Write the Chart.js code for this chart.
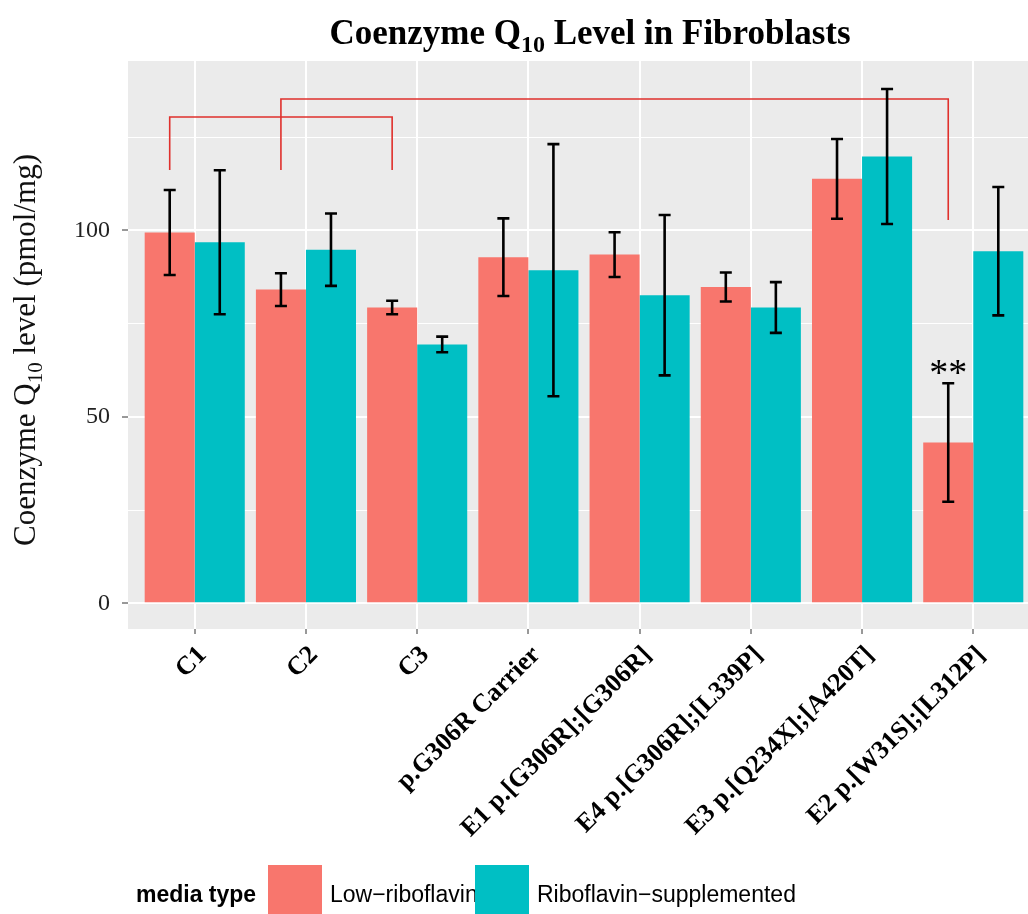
<!DOCTYPE html>
<html>
<head>
<meta charset="utf-8">
<title>Coenzyme Q10 Level in Fibroblasts</title>
<script src="https://cdn.jsdelivr.net/npm/chart.js@4.4.1/dist/chart.umd.min.js"></script>
<style>
  html, body { margin: 0; padding: 0; background: #fff; overflow: hidden; width: 1028px; height: 914px; }
  #wrap { position: absolute; left: 0; top: 0; width: 1028px; height: 914px; overflow: hidden; }
  canvas { display: block; }
</style>
</head>
<body>
<div id="wrap"><canvas id="c" width="1060" height="930"></canvas></div>
<script>
// Cell lines on the x axis
const categories = [
  'C1', 'C2', 'C3', 'p.G306R Carrier',
  'E1 p.[G306R];[G306R]', 'E4 p.[G306R];[L339P]',
  'E3 p.[Q234X];[A420T]', 'E2 p.[W31S];[L312P]'
];

// CoQ10 (pmol/mg), mean and error half-width per media type
const lowMean  = [99.4, 84.1, 79.3, 92.8, 93.5, 84.8, 113.8, 43.1];
const lowErr   = [11.4,  4.4,  1.8, 10.4,  6.0,  3.9,  10.7, 15.9];
const suppMean = [96.8, 94.8, 69.4, 89.3, 82.6, 79.3, 119.8, 94.4];
const suppErr  = [19.3,  9.7,  2.1, 33.8, 21.5,  6.8,  18.1, 17.2];

// Y axis gridline values and labelled ticks
const yGrid = [0, 25, 50, 75, 100, 125];
const yLabelled = [0, 50, 100];

// Comparison brackets (between low-riboflavin bars): from/to category, top level, foot levels
const bracketFrom  = [0, 1];
const bracketTo    = [2, 7];
const bracketTop   = [130.4, 135.2];
const bracketLeft  = [116.2, 116.2];
const bracketRight = [116.2, 102.8];

// Significance mark on the low-riboflavin bar
const sigIndex = 7;
const sigText = '**';

const seriesNames = ['Low\u2212riboflavin', 'Riboflavin\u2212supplemented'];
const seriesColors = ['#F8766D', '#00BFC4'];

const SERIF = '"Liberation Serif", "Times New Roman", serif';
const SANS = '"Liberation Sans", Arial, sans-serif';

// Grey ggplot-style panel behind the bars
const panelBackground = {
  id: 'panelBackground',
  beforeDraw(chart) {
    const { ctx, chartArea: a } = chart;
    ctx.save();
    ctx.fillStyle = '#EBEBEB';
    ctx.fillRect(a.left, a.top, a.right - a.left, a.bottom - a.top);
    ctx.restore();
  }
};

// Red comparison brackets and black error bars
const overlays = {
  id: 'overlays',
  afterDatasetsDraw(chart) {
    const { ctx } = chart;
    const ys = chart.scales.y;
    const lowBars = chart.getDatasetMeta(0).data;

    ctx.save();
    ctx.strokeStyle = '#E0302C';
    ctx.lineWidth = 1.6;
    for (let b = 0; b < bracketFrom.length; b++) {
      const x1 = lowBars[bracketFrom[b]].x;
      const x2 = lowBars[bracketTo[b]].x;
      ctx.beginPath();
      ctx.moveTo(x1, ys.getPixelForValue(bracketLeft[b]));
      ctx.lineTo(x1, ys.getPixelForValue(bracketTop[b]));
      ctx.lineTo(x2, ys.getPixelForValue(bracketTop[b]));
      ctx.lineTo(x2, ys.getPixelForValue(bracketRight[b]));
      ctx.stroke();
    }
    ctx.restore();

    const series = [[lowMean, lowErr], [suppMean, suppErr]];
    ctx.save();
    ctx.strokeStyle = '#000';
    ctx.lineWidth = 2.6;
    series.forEach(([means, errs], d) => {
      chart.getDatasetMeta(d).data.forEach((bar, i) => {
        const x = bar.x;
        const hw = bar.width * 0.12;
        const yTop = ys.getPixelForValue(means[i] + errs[i]);
        const yBot = ys.getPixelForValue(means[i] - errs[i]);
        ctx.beginPath();
        ctx.moveTo(x, yTop); ctx.lineTo(x, yBot);
        ctx.moveTo(x - hw, yTop); ctx.lineTo(x + hw, yTop);
        ctx.moveTo(x - hw, yBot); ctx.lineTo(x + hw, yBot);
        ctx.stroke();
      });
    });
    ctx.restore();

    // significance stars above the error bar
    const sb = lowBars[sigIndex];
    ctx.save();
    ctx.fillStyle = '#000';
    ctx.font = '38px ' + SERIF;
    ctx.textAlign = 'center';
    ctx.textBaseline = 'alphabetic';
    ctx.fillText(sigText, sb.x, ys.getPixelForValue(lowMean[sigIndex] + lowErr[sigIndex]) + 2);
    ctx.restore();
  }
};

// Draws text with a subscript part: parts = [[text, isSub], ...]
function measureParts(ctx, parts, size, weight, family) {
  let w = 0;
  parts.forEach(([t, sub]) => {
    ctx.font = `${weight} ${sub ? Math.round(size * 0.68) : size}px ${family}`;
    w += ctx.measureText(t).width;
  });
  return w;
}
function drawParts(ctx, parts, x, y, size, weight, family) {
  parts.forEach(([t, sub]) => {
    ctx.font = `${weight} ${sub ? Math.round(size * 0.68) : size}px ${family}`;
    ctx.fillText(t, x, y + (sub ? size * 0.22 : 0));
    x += ctx.measureText(t).width;
  });
}

// Title, y-axis title and bottom legend
const annotations = {
  id: 'annotations',
  afterDraw(chart) {
    const { ctx, chartArea: a } = chart;
    ctx.save();
    ctx.fillStyle = '#000';
    ctx.textAlign = 'left';
    ctx.textBaseline = 'alphabetic';

    const title = [['Coenzyme Q', false], ['10', true], [' Level in Fibroblasts', false]];
    const tw = measureParts(ctx, title, 35, 'bold', SERIF);
    drawParts(ctx, title, 590 - tw / 2, 44, 35, 'bold', SERIF);

    const yTitle = [['Coenzyme Q', false], ['10', true], [' level (pmol/mg)', false]];
    const yw = measureParts(ctx, yTitle, 31, 'normal', SERIF);
    ctx.save();
    ctx.translate(35, (a.top + a.bottom) / 2 + 5);
    ctx.rotate(-Math.PI / 2);
    ctx.fillStyle = '#111';
    drawParts(ctx, yTitle, -yw / 2, 0, 31, 'normal', SERIF);
    ctx.restore();

    // legend
    const baseY = 902;
    ctx.font = 'bold 23px ' + SANS;
    ctx.fillText('media type', 136, baseY);
    const keyX = [268, 475];
    chart.data.datasets.forEach((ds, i) => {
      ctx.fillStyle = ds.backgroundColor;
      ctx.fillRect(keyX[i], 865, 54, 54);
      ctx.fillStyle = '#000';
      ctx.font = '23px ' + SANS;
      ctx.fillText(ds.label, keyX[i] + 62, baseY);
    });
    ctx.restore();
  }
};

const chart = new Chart(document.getElementById('c'), {
  type: 'bar',
  data: {
    datasets: [
      {
        label: seriesNames[0],
        data: lowMean.map((v, i) => ({ x: i, y: v })),
        backgroundColor: seriesColors[0],
        borderWidth: 0,
        barPercentage: 1,
        categoryPercentage: 0.9
      },
      {
        label: seriesNames[1],
        data: suppMean.map((v, i) => ({ x: i, y: v })),
        backgroundColor: seriesColors[1],
        borderWidth: 0,
        barPercentage: 1,
        categoryPercentage: 0.9
      }
    ]
  },
  options: {
    responsive: false,
    devicePixelRatio: 1,
    animation: false,
    events: [],
    layout: { padding: { left: 0, top: 61, right: 20, bottom: 0 } },
    plugins: {
      legend: { display: false },
      tooltip: { enabled: false },
      title: { display: false }
    },
    scales: {
      x: {
        type: 'linear',
        offset: false,
        min: -0.6,
        max: categories.length - 1 + 0.6,
        afterBuildTicks(scale) {
          scale.ticks = categories.map((_, i) => ({ value: i }));
        },
        afterFit(scale) { scale.height = 301; },
        border: { display: false },
        grid: {
          offset: false,
          color: '#FFFFFF',
          lineWidth: 2,
          drawTicks: true,
          tickLength: 5,
          tickColor: '#333333',
          tickWidth: 1
        },
        ticks: {
          autoSkip: false,
          minRotation: 45,
          maxRotation: 45,
          padding: 6,
          labelOffset: 8,
          color: '#000',
          font: { family: SERIF, size: 26, weight: 'bold' },
          callback: (v) => categories[v]
        }
      },
      y: {
        type: 'linear',
        min: -6.9,
        max: 145.4,
        afterBuildTicks(scale) {
          scale.ticks = yGrid.map(v => ({ value: v }));
        },
        afterFit(scale) { scale.width = 128; },
        border: { display: false },
        grid: {
          color: '#FFFFFF',
          lineWidth: (c) => (yLabelled.includes(c.tick.value) ? 2 : 1),
          drawTicks: true,
          tickLength: 6,
          tickWidth: 1,
          tickColor: (c) => (yLabelled.includes(c.tick.value) ? '#333333' : 'rgba(0,0,0,0)')
        },
        ticks: {
          padding: 12,
          color: '#222',
          font: { family: SERIF, size: 24 },
          callback: (v) => (yLabelled.includes(v) ? String(v) : '')
        }
      }
    }
  },
  plugins: [panelBackground, overlays, annotations]
});
</script>
</body>
</html>
